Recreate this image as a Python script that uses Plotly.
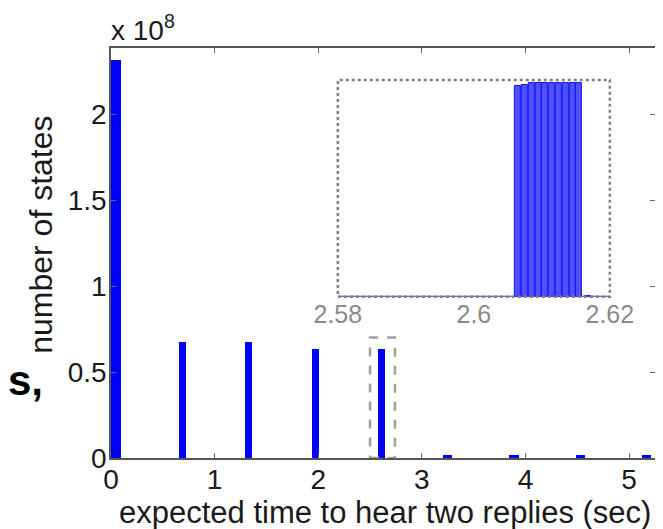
import plotly.graph_objects as go

# Main histogram data
main_x = [0.0475, 0.69, 1.33, 1.97, 2.61, 3.25, 3.89, 4.53, 5.17]
main_w = [0.095, 0.07, 0.07, 0.07, 0.07, 0.09, 0.09, 0.09, 0.09]
main_y = [2.314e8, 0.674e8, 0.674e8, 0.634e8, 0.634e8, 0.016e8, 0.016e8, 0.016e8, 0.016e8]

# Inset (zoom of 2.58 - 2.62)
inset_x = [2.6065, 2.6075, 2.6085, 2.6095, 2.6105, 2.6115, 2.6125, 2.6135, 2.6145, 2.6155, 2.6167]
inset_y = [0.623e8, 0.624e8, 0.631e8, 0.631e8, 0.631e8, 0.631e8, 0.631e8, 0.631e8, 0.631e8, 0.631e8, 0.002e8]
inset_base_x = [2.58, 2.62]
inset_base_y = [0, 0]

x_ticks = [0, 1, 2, 3, 4, 5]
y_ticks = [0, 0.5e8, 1e8, 1.5e8, 2e8]
y_tick_text = ["0", "0.5", "1", "1.5", "2"]
inset_ticks = [2.58, 2.6, 2.62]
inset_tick_text = ["2.58", "2.6", "2.62"]

FONT = "Liberation Sans, Arial, sans-serif"

fig = go.Figure()
fig.add_trace(go.Bar(x=main_x, y=main_y, width=main_w, marker=dict(color="#0000ff", line=dict(width=0)),
                     xaxis="x", yaxis="y", showlegend=False))
fig.add_trace(go.Scatter(x=inset_base_x, y=inset_base_y, mode="lines", line=dict(color="#3030ff", width=2),
                         xaxis="x2", yaxis="y2", showlegend=False))
fig.add_trace(go.Bar(x=inset_x, y=inset_y, width=0.00088,
                     marker=dict(color="rgba(50,50,255,0.85)", line=dict(color="#1010ff", width=1)),
                     xaxis="x2", yaxis="y2", showlegend=False))

# page body has an 8px margin, so the figure is 8px smaller and offset
fig.update_layout(
    width=655, height=521,
    margin=dict(l=103, r=8, t=40, b=71),
    paper_bgcolor="white", plot_bgcolor="white",
    barmode="overlay", bargap=0,
    font=dict(family=FONT, size=28, color="#1a1a1a"),
    xaxis=dict(range=[0, 5.25], tickvals=x_ticks, ticks="inside", ticklen=5, tickcolor="#666",
               showline=True, linecolor="#555", linewidth=1.5, mirror="ticks", showgrid=False,
               zeroline=False, tickfont=dict(size=28), automargin=False, ticklabelstandoff=-4),
    yaxis=dict(range=[0, 2.384e8], tickvals=y_ticks, ticktext=y_tick_text, ticks="inside", ticklen=5,
               tickcolor="#666", showline=True, linecolor="#555", linewidth=1.5, mirror="ticks",
               showgrid=False, zeroline=False, tickfont=dict(size=28), automargin=False,
               ticklabelstandoff=-3),
    xaxis2=dict(domain=[0.417, 0.917], anchor="y2", range=[2.58, 2.62], tickvals=inset_ticks,
                ticktext=inset_tick_text, ticks="", showline=False, showgrid=False, zeroline=False,
                tickfont=dict(size=25, color="#8a8a8a"), automargin=False),
    yaxis2=dict(domain=[0.393, 0.922], anchor="x2", range=[0, 0.64e8], showticklabels=False,
                ticks="", showline=False, showgrid=False, zeroline=False, automargin=False),
    shapes=[
        dict(type="rect", xref="x2 domain", yref="y2 domain", x0=0, x1=1, y0=0, y1=1,
             line=dict(color="#808080", width=2.5, dash="dot"), fillcolor="rgba(0,0,0,0)", layer="above"),
        dict(type="rect", xref="x", yref="y", x0=2.5, x1=2.74, y0=0, y1=0.70e8,
             line=dict(color="#a0a0a0", width=2.5, dash="dash"), fillcolor="rgba(0,0,0,0)"),
    ],
    annotations=[
        dict(text="x 10<sup>8</sup>", xref="paper", yref="paper", x=0.0, y=1.0, xanchor="left",
             yanchor="bottom", showarrow=False, font=dict(size=28, color="#1a1a1a"), xshift=-2),
        dict(text="number of states", xref="paper", yref="paper", x=-0.129, y=0.544,
             xanchor="center", yanchor="middle", textangle=-90, showarrow=False,
             font=dict(size=32, color="#1a1a1a")),
        dict(text="expected time to hear two replies (sec)", xref="paper", yref="paper", x=0.503,
             y=-0.134, xanchor="center", yanchor="middle", showarrow=False,
             font=dict(size=31, color="#1a1a1a")),
        dict(text="<b>s,</b>", xref="paper", yref="paper", x=-103 / 544, y=0.19, xanchor="left",
             yanchor="middle", showarrow=False, font=dict(size=42, color="black", family="Liberation Sans"),
             xshift=-2),
    ],
)

fig.write_html("out.html")
